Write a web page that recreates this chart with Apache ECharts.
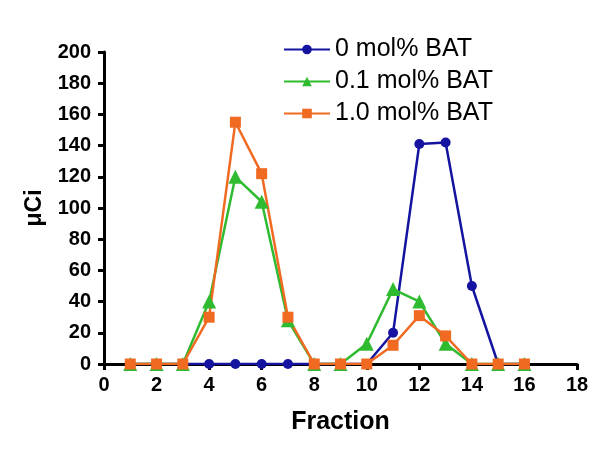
<!DOCTYPE html>
<html>
<head>
<meta charset="utf-8">
<script src="https://cdn.jsdelivr.net/npm/echarts@6/dist/echarts.min.js"></script>
<style>
  html, body { margin: 0; padding: 0; background: #fff; }
  #chart { width: 602px; height: 449px; }
</style>
</head>
<body>
<div id="chart"></div>
<script>
// fractions and measured activity (µCi)
const fractions = [1, 2, 3, 4, 5, 6, 7, 8, 9, 10, 11, 12, 13, 14, 15, 16]
const bat0 = [0, 0, 0, 0, 0, 0, 0, 0, 0, 0, 20, 141, 142, 50, 0, 0]
const bat01 = [0, 0, 0, 40, 120, 104, 28, 0, 0, 13, 48, 40, 13, 0, 0, 0]
const bat10 = [0, 0, 0, 30, 155, 122, 30, 0, 0, 0, 12, 31, 18, 0, 0, 0]
const seriesNames = ['0 mol% BAT', '0.1 mol% BAT', '1.0 mol% BAT']

const pairs = vals => fractions.map((f, i) => [f, vals[i]])

const chart = echarts.init(document.getElementById('chart'))

const font = 'Liberation Sans, Arial'
const axisCommon = {
  axisLine: { show: true, lineStyle: { color: '#000', width: 3 } },
  axisTick: { show: true, inside: false, length: 6, lineStyle: { color: '#000', width: 3 } },
  splitLine: { show: false },
  axisLabel: { color: '#000', fontFamily: font, fontWeight: 'bold', fontSize: 20 }
}

const option = {
  animation: false,
  grid: { left: 104, right: 25, top: 52, bottom: 85 },
  legend: {
    orient: 'vertical',
    left: 278,
    top: 32,
    itemWidth: 46,
    itemHeight: 12,
    itemGap: 7,
    textStyle: { color: '#000', fontFamily: font, fontSize: 25 },
    data: seriesNames
  },
  xAxis: {
    type: 'value',
    min: 0, max: 18, interval: 2,
    name: 'Fraction',
    nameLocation: 'middle',
    nameGap: 46,
    nameTextStyle: { color: '#000', fontFamily: font, fontWeight: 'bold', fontSize: 25 },
    ...axisCommon,
    axisLabel: { ...axisCommon.axisLabel, margin: 11 }
  },
  yAxis: {
    type: 'value',
    min: 0, max: 200, interval: 20,
    name: 'μCi',
    nameLocation: 'middle',
    nameGap: 58,
    nameRotate: 90,
    nameTextStyle: { color: '#000', fontFamily: font, fontWeight: 'bold', fontSize: 23 },
    ...axisCommon,
    axisLabel: { ...axisCommon.axisLabel, margin: 13 }
  },
  series: [
    {
      name: seriesNames[0], type: 'line', data: pairs(bat0),
      symbol: 'circle', symbolSize: 10,
      itemStyle: { color: '#1414a0' }, lineStyle: { width: 2.5 }
    },
    {
      name: seriesNames[1], type: 'line', data: pairs(bat01),
      symbol: 'triangle', symbolSize: 14,
      itemStyle: { color: '#2fbb2f' }, lineStyle: { width: 2.5 }
    },
    {
      name: seriesNames[2], type: 'line', data: pairs(bat10),
      symbol: 'rect', symbolSize: 11,
      itemStyle: { color: '#f06a22' }, lineStyle: { width: 2.5 }
    }
  ]
}

chart.setOption(option)
</script>
</body>
</html>
